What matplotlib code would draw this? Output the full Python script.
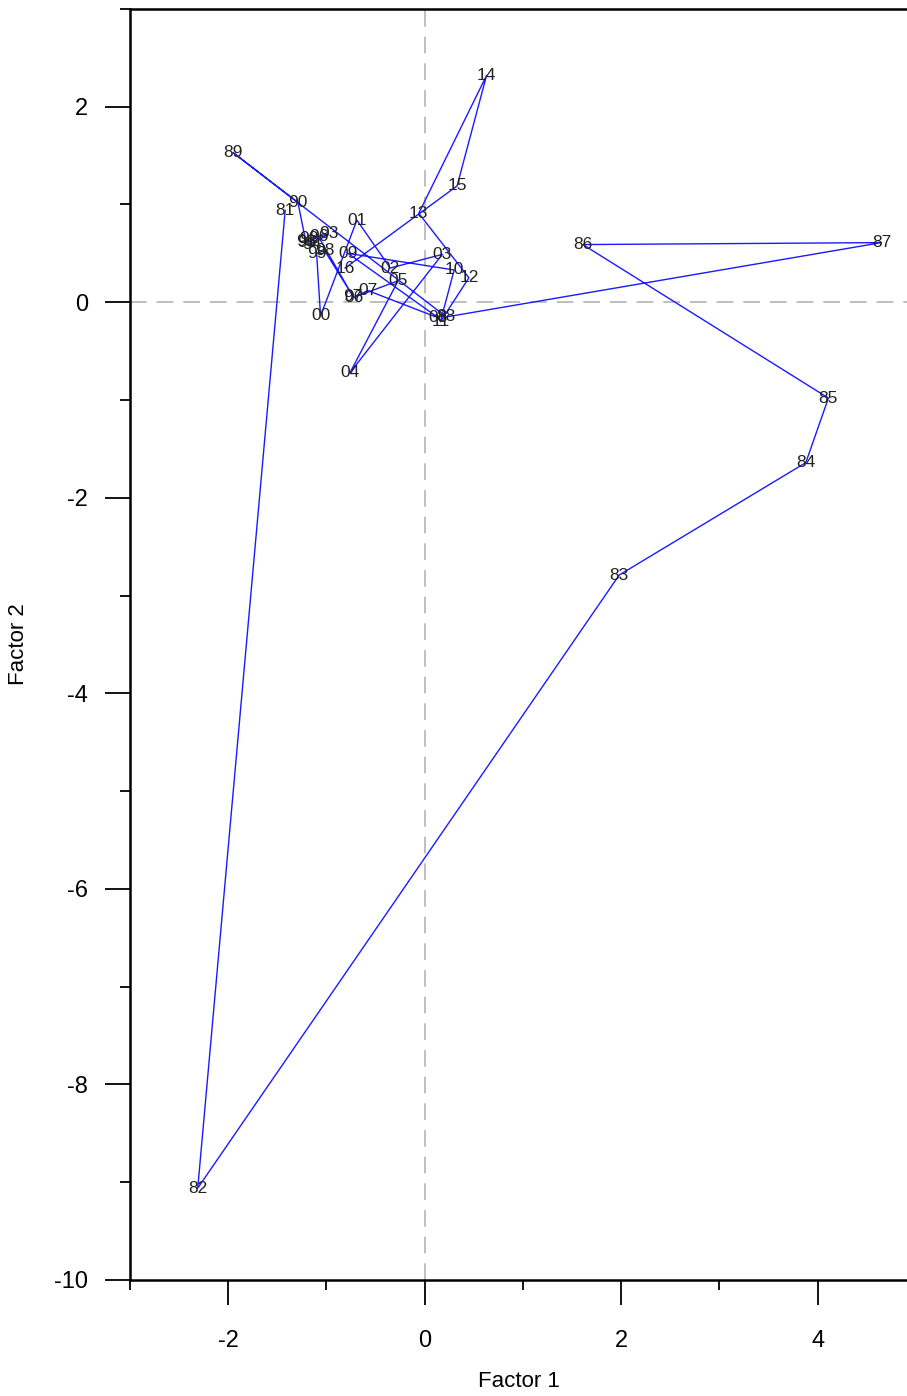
import matplotlib
matplotlib.use("Agg")
import matplotlib.pyplot as plt
from matplotlib.ticker import MultipleLocator

plt.rcParams['font.family'] = ['Liberation Sans', 'DejaVu Sans']
plt.rcParams['axes.unicode_minus'] = False

# yearly scores on the first two factors, 1981 .. 2016
years = ['81', '82', '83', '84', '85', '86', '87', '88', '89', '90',
         '91', '92', '93', '94', '95', '96', '97', '98', '99', '00',
         '01', '02', '03', '04', '05', '06', '07', '08', '09', '10',
         '11', '12', '13', '14', '15', '16']
factor1 = [-1.42, -2.31, 1.98, 3.88, 4.11, 1.61, 4.65, 0.22, -1.95, -1.29,
           -1.21, -1.18, -0.98, -1.15, -1.20, -1.08, -0.73, -1.02, -1.10, -1.06,
           -0.69, -0.35, 0.18, -0.76, -0.27, -0.72, -0.58, 0.14, -0.78, 0.30,
           0.16, 0.45, -0.06, 0.63, 0.33, -0.81]
factor2 = [0.94, -9.06, -2.79, -1.64, -0.98, 0.59, 0.61, -0.15, 1.53, 1.02,
           0.62, 0.65, 0.70, 0.59, 0.61, 0.67, 0.06, 0.53, 0.50, -0.14,
           0.84, 0.35, 0.49, -0.72, 0.22, 0.05, 0.12, -0.16, 0.50, 0.33,
           -0.20, 0.25, 0.91, 2.32, 1.19, 0.35]

fig = plt.figure(figsize=(9.07, 13.96), dpi=100)
ax = fig.add_axes([0.1433, 0.0831, 0.8567, 0.9105])

ax.axhline(0, color='#b4b4b4', lw=1.2, ls=(0, (10, 6)), zorder=1)
ax.axvline(0, color='#b4b4b4', lw=1.2, ls=(0, (10, 6)), zorder=1)

ax.plot(factor1, factor2, color='#1a1aff', lw=1.0, zorder=2)
for yr, x, y in zip(years, factor1, factor2):
    ax.text(x, y, yr, fontsize=12.5, ha='center', va='center', color='#222222', zorder=3)

ax.set_xlim(-3, 4.91)
ax.set_ylim(-10, 3)
ax.xaxis.set_major_locator(MultipleLocator(2))
ax.xaxis.set_minor_locator(MultipleLocator(1))
ax.yaxis.set_major_locator(MultipleLocator(2))
ax.yaxis.set_minor_locator(MultipleLocator(1))
ax.tick_params(which='major', direction='out', length=18, width=1.3, labelsize=17, pad=12)
ax.tick_params(axis='x', which='major', pad=18)
ax.tick_params(which='minor', direction='out', length=7, width=1.3)
ax.tick_params(axis='x', which='both', top=False)
ax.tick_params(axis='y', which='both', right=False)

for s in ['left', 'bottom', 'top']:
    ax.spines[s].set_linewidth(1.8)
ax.spines['right'].set_visible(False)

ax.set_xlabel('Factor 1', fontsize=16, labelpad=14)
ax.set_ylabel('Factor 2', fontsize=16, labelpad=18)

fig.savefig('out.png', dpi=100)
